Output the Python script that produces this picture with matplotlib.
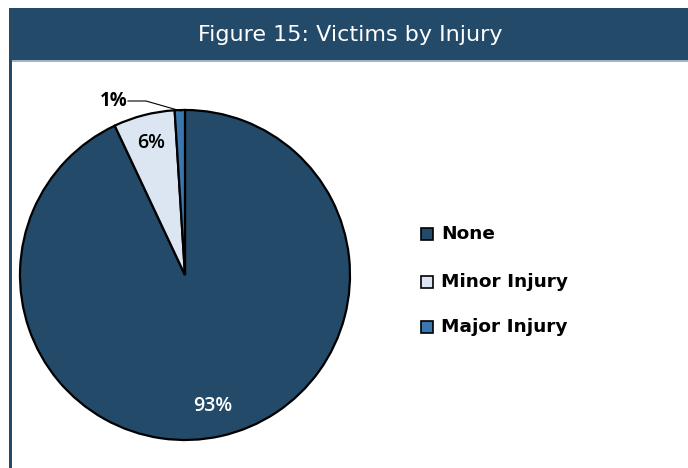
import matplotlib
matplotlib.use("Agg")
import matplotlib.pyplot as plt
from matplotlib.patches import Rectangle

categories = ["None", "Minor Injury", "Major Injury"]
values = [93, 6, 1]
labels = ["93%", "6%", "1%"]
colors = ["#244A6A", "#DCE6F2", "#3A77AE"]
title = "Figure 15: Victims by Injury"

plt.rcParams['font.family'] = ['Open Sans', 'DejaVu Sans']

W, H = 688, 468
fig = plt.figure(figsize=(W / 100, H / 100), dpi=100)
ax = fig.add_axes([0, 0, 1, 1])

NAVY = "#244A6A"
# header band
ax.add_patch(Rectangle((9, H - 60), W - 9, 52, facecolor=NAVY, edgecolor="none", zorder=1))
ax.add_patch(Rectangle((12, H - 61.5), W - 12, 1.5, facecolor="#9FB3C6", edgecolor="none", zorder=1))
# left border
ax.add_patch(Rectangle((9, 0), 3, H - 8, facecolor=NAVY, edgecolor="none", zorder=1))
ax.text(350, H - 35, title, color="white", fontsize=16, ha="center", va="center",
        family="DejaVu Sans", zorder=3)

cx, cy, r = 185, H - 275, 165
wedges, _ = ax.pie(values, colors=colors, startangle=90, counterclock=False,
                   center=(cx, cy), radius=r, explode=[0, 0.045, 0],
                   wedgeprops=dict(edgecolor="black", linewidth=1.6))
for w in wedges:
    w.set_zorder(2)

# labels
ax.text(213, H - 406, labels[0], color="white", fontsize=14, ha="center", va="center",
        fontweight="semibold", zorder=3)
ax.text(151, H - 143, labels[1], color="black", fontsize=14, ha="center", va="center",
        fontweight="semibold", zorder=3)
ax.text(114, H - 101, labels[2], color="black", fontsize=13.5, ha="center", va="center",
        fontweight="bold", zorder=3)
ax.plot([128, 146, 181], [H - 101, H - 101, H - 111], color="black", lw=0.8, zorder=3)

# legend
ys = [234, 282, 327]
for cat, col, y in zip(categories, colors, ys):
    ax.add_patch(Rectangle((421, H - y - 6), 12, 12, facecolor=col, edgecolor="black",
                           lw=1.2, zorder=3))
    ax.text(441, H - y, cat, fontsize=13.3, ha="left", va="center", fontweight="bold",
            family="DejaVu Sans", color="black", zorder=3)

ax.set_xlim(0, W)
ax.set_ylim(0, H)
ax.set_aspect("auto")
ax.axis("off")
fig.savefig("out.png", dpi=100, facecolor="white")
